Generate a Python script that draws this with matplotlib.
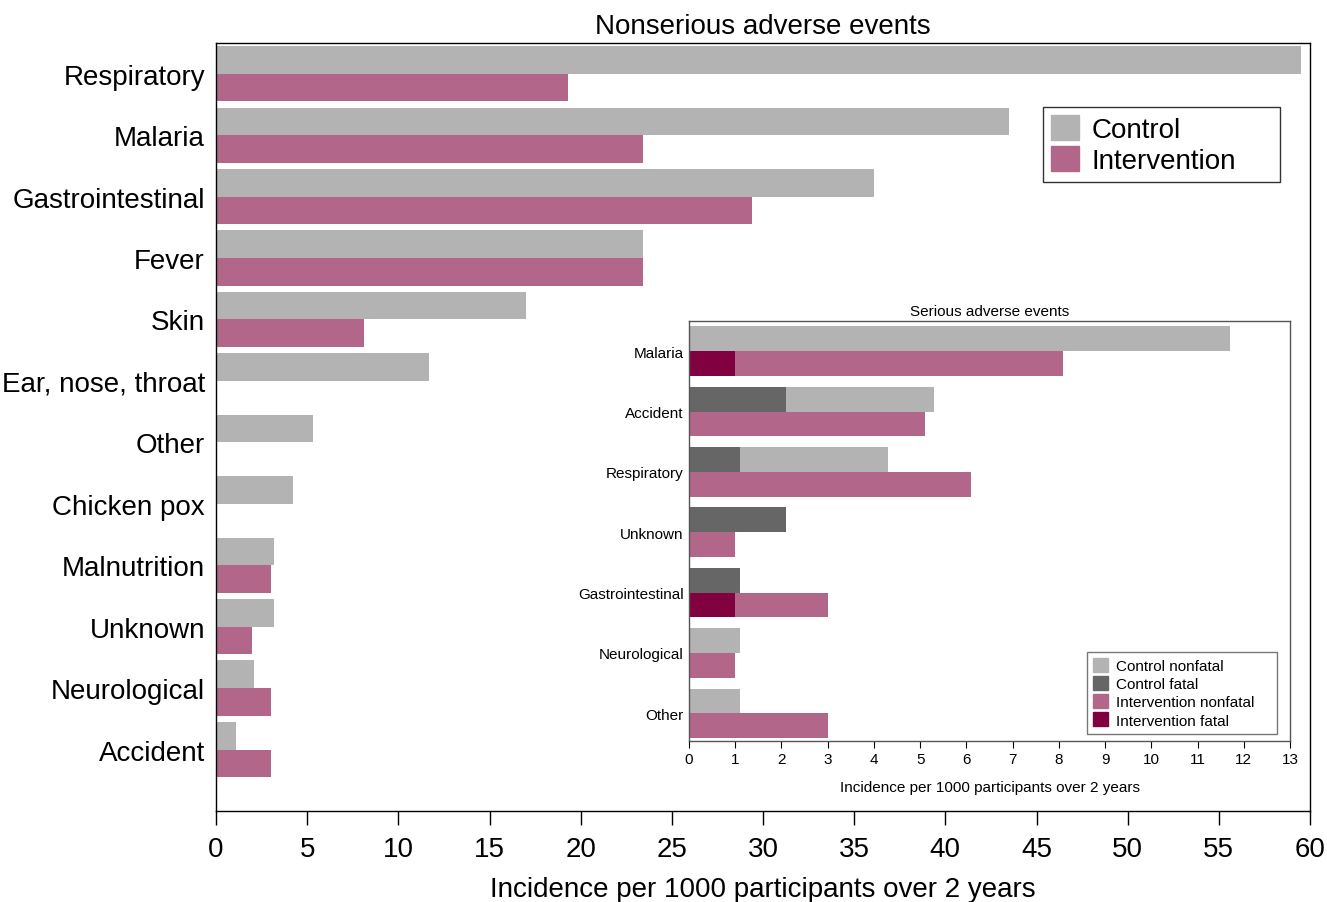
import numpy as np
import matplotlib
matplotlib.use('Agg')
import matplotlib.pyplot as plt
from matplotlib.patches import Patch

plt.rcParams['font.family'] = ['Liberation Sans', 'DejaVu Sans']

# nonserious adverse events (main panel)
categories = ['Respiratory', 'Malaria', 'Gastrointestinal', 'Fever', 'Skin',
              'Ear, nose, throat', 'Other', 'Chicken pox', 'Malnutrition',
              'Unknown', 'Neurological', 'Accident']
control = [59.5, 43.5, 36.1, 23.4, 17.0, 11.7, 5.3, 4.2, 3.2, 3.2, 2.1, 1.1]
intervention = [19.3, 23.4, 29.4, 23.4, 8.1, 0, 0, 0, 3.0, 2.0, 3.0, 3.0]

# serious adverse events (inset)
s_categories = ['Malaria', 'Accident', 'Respiratory', 'Unknown',
                'Gastrointestinal', 'Neurological', 'Other']
s_control_fatal = [0, 2.1, 1.1, 2.1, 1.1, 0, 0]
s_control_nonfatal = [11.7, 3.2, 3.2, 0, 0, 1.1, 1.1]
s_int_fatal = [1.0, 0, 0, 0, 1.0, 0, 0]
s_int_nonfatal = [7.1, 5.1, 6.1, 1.0, 2.0, 1.0, 3.0]

c_ctrl = '#b3b3b3'
c_ctrl_fatal = '#666666'
c_int = '#b2668a'
c_int_fatal = '#800040'

fig = plt.figure(figsize=(13.27, 9.03), dpi=100)
W, H = 1327, 903

def px_axes(l, t, r, b):
    return fig.add_axes([l / W, 1 - b / H, (r - l) / W, (b - t) / H])

def px_box(ax, l, t, r, b):
    # legend box in figure pixels -> axes fraction (x0, y0, w, h)
    pos = ax.get_position()
    x0, y0 = pos.x0 * W, pos.y0 * H
    aw, ah = pos.width * W, pos.height * H
    return ((l - x0) / aw, (H - b - y0) / ah, (r - l) / aw, (b - t) / ah)

ax = px_axes(216, 44, 1310, 812)
y = np.arange(len(categories))
h = 0.45
ax.barh(y - h / 2, control, height=h, color=c_ctrl)
ax.barh(y + h / 2, intervention, height=h, color=c_int)
ax.set_ylim(12.0, -0.5)
ax.set_xlim(0, 60)
ax.set_xticks(np.arange(0, 61, 5))
ax.set_yticks(y)
ax.set_yticklabels(categories)
ax.tick_params(axis='y', length=0, labelsize=20, pad=8)
ax.tick_params(axis='x', length=10, width=1, labelsize=20, pad=8)
ax.set_xlabel('Incidence per 1000 participants over 2 years', fontsize=20, labelpad=10)
ax.set_title('Nonserious adverse events', fontsize=20, pad=0, y=1.013)
for s in ax.spines.values():
    s.set_linewidth(1)
leg = ax.legend(handles=[Patch(color=c_ctrl, label='Control'),
                         Patch(color=c_int, label='Intervention')],
                loc='upper left', bbox_to_anchor=px_box(ax, 1043, 108, 1280, 183),
                mode='expand', borderaxespad=0,
                fontsize=20, frameon=True, fancybox=False, edgecolor='black',
                handlelength=1.0, handleheight=1.0, borderpad=0.3, labelspacing=0.1,
                handletextpad=0.45)
leg.get_frame().set_linewidth(1)

# inset
ax2 = px_axes(689, 322, 1290, 742)
ys = np.arange(len(s_categories))
hs = 0.41
cf = np.array(s_control_fatal)
cn = np.array(s_control_nonfatal)
inf = np.array(s_int_fatal)
inn = np.array(s_int_nonfatal)
ax2.barh(ys - hs / 2, cf, height=hs, color=c_ctrl_fatal)
ax2.barh(ys - hs / 2, cn, left=cf, height=hs, color=c_ctrl)
ax2.barh(ys + hs / 2, inf, height=hs, color=c_int_fatal)
ax2.barh(ys + hs / 2, inn, left=inf, height=hs, color=c_int)
ax2.set_ylim(6.46, -0.5)
ax2.set_xlim(0, 13)
ax2.set_xticks(np.arange(0, 14, 1))
ax2.set_yticks(ys)
ax2.set_yticklabels(s_categories)
ax2.tick_params(axis='y', length=0, labelsize=11, pad=4)
ax2.tick_params(axis='x', length=5, labelsize=11, pad=3)
ax2.set_xlabel('Incidence per 1000 participants over 2 years', fontsize=11, labelpad=10)
ax2.set_title('Serious adverse events', fontsize=11, pad=4)
for s in ax2.spines.values():
    s.set_color('#555555')
    s.set_linewidth(1)
leg2 = ax2.legend(handles=[Patch(color=c_ctrl, label='Control nonfatal'),
                           Patch(color=c_ctrl_fatal, label='Control fatal'),
                           Patch(color=c_int, label='Intervention nonfatal'),
                           Patch(color=c_int_fatal, label='Intervention fatal')],
                  loc='upper left', bbox_to_anchor=px_box(ax2, 1087, 653, 1277, 731),
                  mode='expand', borderaxespad=0,
                  fontsize=11, frameon=True, fancybox=False, edgecolor='#555555',
                  handlelength=1.0, handleheight=1.0, borderpad=0.4, labelspacing=0.2,
                  handletextpad=0.5)
leg2.get_frame().set_linewidth(1)

fig.savefig('out.png', dpi=100)
